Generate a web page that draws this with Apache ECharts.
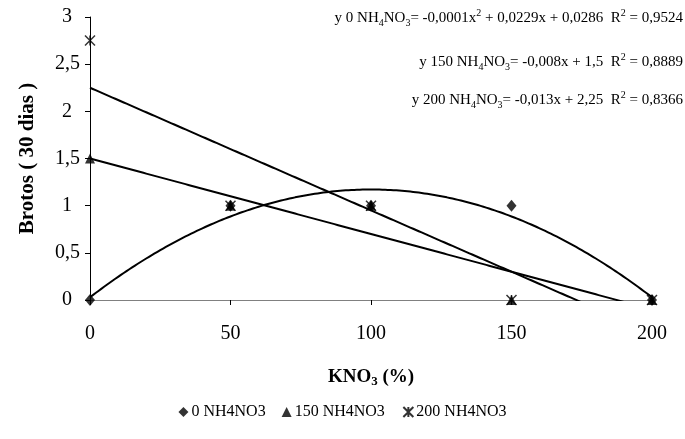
<!DOCTYPE html>
<html>
<head>
<meta charset="utf-8">
<script src="https://cdn.jsdelivr.net/npm/echarts@6/dist/echarts.min.js"></script>
<style>html,body{margin:0;padding:0;background:#fff}#c{width:685px;height:439px}</style>
</head>
<body>
<div id="c"></div>
<script>
// Data
var doses = [0, 50, 100, 150, 200];               // KNO3 (%)
var brotos0 = [0, 1, 1, 1, 0];                     // 0 NH4NO3
var brotos150 = [1.5, 1, 1, 0, 0];                 // 150 NH4NO3
var brotos200 = [2.75, 1, 1, 0, 0];                // 200 NH4NO3
var seriesNames = ['0 NH4NO3', '150 NH4NO3', '200 NH4NO3'];
var xTicks = [0, 50, 100, 150, 200];
var yTicks = [0, 0.5, 1, 1.5, 2, 2.5, 3];

var FONT = '"Liberation Serif", "Times New Roman", serif';

function pairs(xs, ys) { return xs.map(function (x, i) { return [x, ys[i]]; }); }

// Least-squares polynomial fit (like the spreadsheet trendlines)
function polyFit(xs, ys, deg) {
  var n = deg + 1, A = [], b = [];
  for (var r = 0; r < n; r++) {
    A.push([]); b.push(0);
    for (var c = 0; c < n; c++) {
      var s = 0; xs.forEach(function (x) { s += Math.pow(x, r + c); }); A[r].push(s);
    }
    xs.forEach(function (x, i) { b[r] += ys[i] * Math.pow(x, r); });
  }
  for (var i = 0; i < n; i++) {
    var p = i;
    for (var k = i + 1; k < n; k++) if (Math.abs(A[k][i]) > Math.abs(A[p][i])) p = k;
    var t = A[i]; A[i] = A[p]; A[p] = t; var tb = b[i]; b[i] = b[p]; b[p] = tb;
    for (var k2 = i + 1; k2 < n; k2++) {
      var f = A[k2][i] / A[i][i];
      for (var j = i; j < n; j++) A[k2][j] -= f * A[i][j];
      b[k2] -= f * b[i];
    }
  }
  var coef = new Array(n);
  for (var i2 = n - 1; i2 >= 0; i2--) {
    var s2 = b[i2];
    for (var j2 = i2 + 1; j2 < n; j2++) s2 -= A[i2][j2] * coef[j2];
    coef[i2] = s2 / A[i2][i2];
  }
  return coef;
}
function fitLine(xs, ys, deg) {
  var c = polyFit(xs, ys, deg), out = [];
  var x0 = xs[0], x1 = xs[xs.length - 1];
  for (var x = x0; x <= x1 + 1e-9; x += 1) {
    var y = 0; c.forEach(function (a, k) { y += a * Math.pow(x, k); });
    out.push([x, y]);
  }
  return out;
}

var star = 'path://M0,0L10,10M10,0L0,10M5,0L5,10';

function richEq() {
  return {
    n: { fontFamily: FONT, fontSize: 15, color: '#000', lineHeight: 20, verticalAlign: 'middle' },
    s: { fontFamily: FONT, fontSize: 10, color: '#000', lineHeight: 10, verticalAlign: 'bottom' },
    p: { fontFamily: FONT, fontSize: 10, color: '#000', lineHeight: 10, verticalAlign: 'top' }
  };
}

var trendStyle = { color: '#000', width: 2 };
var chart = echarts.init(document.getElementById('c'));
chart.setOption({
  animation: false,
  backgroundColor: '#fff',
  grid: { left: 90, right: 33, top: 17, bottom: 139 },
  xAxis: {
    type: 'value', min: 0, max: 200, interval: 50,
    axisLine: { lineStyle: { color: '#808080', width: 1 } },
    axisTick: { show: true, length: 5, lineStyle: { color: '#000' } },
    splitLine: { show: false },
    axisLabel: { color: '#000', fontFamily: FONT, fontSize: 20, margin: 24 },
    name: '{b|KNO}{s|3}{b| (%)}', nameLocation: 'middle', nameGap: 66,
    nameTextStyle: {
      rich: {
        b: { fontFamily: FONT, fontSize: 19, fontWeight: 'bold', color: '#000', lineHeight: 22, verticalAlign: 'middle' },
        s: { fontFamily: FONT, fontSize: 13, fontWeight: 'bold', color: '#000', lineHeight: 12, verticalAlign: 'bottom' }
      }
    }
  },
  yAxis: {
    type: 'value', min: 0, max: 3, interval: 0.5,
    axisLine: { show: true, lineStyle: { color: '#000', width: 1 } },
    axisTick: { show: true, length: 5, lineStyle: { color: '#000' } },
    splitLine: { show: false },
    axisLabel: {
      color: '#000', fontFamily: FONT, fontSize: 20, margin: 10,
      formatter: function (v) {
        var s = String(v).replace('.', ',');
        return Number.isInteger(v) ? '{i|' + s + '}' : s;
      },
      rich: { i: { fontFamily: FONT, fontSize: 20, color: '#000', padding: [0, 8, 0, 0] } }
    },
    name: 'Brotos ( 30 dias )', nameLocation: 'middle', nameGap: 52,
    nameTextStyle: { fontFamily: FONT, fontSize: 21, fontWeight: 'bold', color: '#000' }
  },
  legend: {
    bottom: 14, left: 'center', itemGap: 16, itemWidth: 10, itemHeight: 10,
    data: seriesNames,
    textStyle: { fontFamily: FONT, fontSize: 16, color: '#000', padding: [0, 0, 0, -2] }
  },
  graphic: [
    { type: 'text', right: 2, top: 8, style: {
      text: '{n|y 0 NH}{s|4}{n|NO}{s|3}{n|= -0,0001x}{p|2}{n| + 0,0229x + 0,0286  R}{p|2}{n| = 0,9524}',
      rich: richEq() } },
    { type: 'text', right: 2, top: 52, style: {
      text: '{n|y 150 NH}{s|4}{n|NO}{s|3}{n|= -0,008x + 1,5  R}{p|2}{n| = 0,8889}',
      rich: richEq() } },
    { type: 'text', right: 2, top: 90, style: {
      text: '{n|y 200 NH}{s|4}{n|NO}{s|3}{n|= -0,013x + 2,25  R}{p|2}{n| = 0,8366}',
      rich: richEq() } }
  ],
  series: [
    { type: 'line', data: fitLine(doses, brotos0, 2), showSymbol: false, symbol: 'none', clip: true, lineStyle: trendStyle, z: 2, silent: true },
    { type: 'line', data: fitLine(doses, brotos150, 1), showSymbol: false, symbol: 'none', clip: true, lineStyle: trendStyle, z: 2, silent: true },
    { type: 'line', data: fitLine(doses, brotos200, 1), showSymbol: false, symbol: 'none', clip: true, lineStyle: trendStyle, z: 2, silent: true },
    { name: seriesNames[0], type: 'scatter', data: pairs(doses, brotos0), symbol: 'diamond', symbolSize: [10, 12],
      itemStyle: { color: '#000' }, clip: false, z: 5 },
    { name: seriesNames[1], type: 'scatter', data: pairs(doses, brotos150), symbol: 'triangle', symbolSize: 10,
      itemStyle: { color: '#000' }, clip: false, z: 5 },
    { name: seriesNames[2], type: 'scatter', data: pairs(doses, brotos200), symbol: star, symbolSize: 10,
      itemStyle: { color: 'none', borderColor: '#000', borderWidth: 1.5 }, clip: false, z: 5 }
  ]
});
</script>
</body>
</html>
